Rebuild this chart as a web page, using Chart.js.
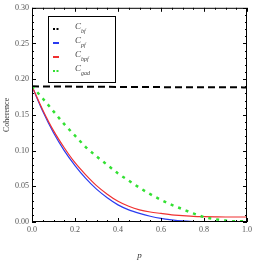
<!DOCTYPE html>
<html>
<head>
<meta charset="utf-8">
<script src="https://cdn.jsdelivr.net/npm/chart.js@4"></script>
<style>
  html, body { margin: 0; padding: 0; background: #fff; }
  #wrap { width: 267px; height: 267px; }
</style>
</head>
<body>
<div id="wrap"><canvas id="chart" width="267" height="267"></canvas></div>
<script>
// values
var pValues = [0, 0.05, 0.1, 0.15, 0.2, 0.25, 0.3, 0.35, 0.4, 0.45, 0.5, 0.55, 0.6, 0.65, 0.7, 0.75, 0.8, 0.85, 0.9, 0.95, 1.0];
var cBf  = [0.190, 0.1899, 0.1898, 0.1897, 0.1896, 0.1895, 0.1894, 0.1893, 0.1892, 0.1891, 0.1890, 0.1890, 0.1889, 0.1889, 0.1888, 0.1888, 0.1887, 0.1887, 0.1886, 0.1886, 0.1885];
var cPf  = [0.190, 0.155, 0.125, 0.100, 0.079, 0.061, 0.046, 0.034, 0.024, 0.017, 0.012, 0.008, 0.005, 0.003, 0.0015, 0.0007, 0.0003, 0.0001, 0, 0, 0];
var cBpf = [0.190, 0.157, 0.128, 0.104, 0.083, 0.066, 0.051, 0.039, 0.029, 0.022, 0.017, 0.014, 0.012, 0.010, 0.009, 0.008, 0.0075, 0.0072, 0.007, 0.007, 0.007];
var cGad = [0.190, 0.173, 0.155, 0.137, 0.121, 0.105, 0.092, 0.080, 0.068, 0.058, 0.048, 0.039, 0.031, 0.024, 0.018, 0.012, 0.007, 0.004, 0.002, 0.001, 0.001];
var legendSubs = ['bf', 'pf', 'bpf', 'gad'];
var xTicks = [0, 0.2, 0.4, 0.6, 0.8, 1.0];
var yTicks = [0, 0.05, 0.10, 0.15, 0.20, 0.25, 0.30];

function pts(arr) {
    return arr.map(function (v, i) { return { x: pValues[i], y: v }; });
}

var serif = '"Liberation Serif", "DejaVu Serif", serif';

// ticks pointing inward on all four sides, like the original frame
var frameTicks = {
    id: 'frameTicks',
    afterDraw: function (chart) {
        var ctx = chart.ctx, a = chart.chartArea;
        var xs = chart.scales.x, ys = chart.scales.y;
        ctx.save();
        ctx.strokeStyle = '#000';
        ctx.lineWidth = 1;
        ctx.strokeRect(a.left + 0.5, a.top + 0.5, a.right - a.left - 1, a.bottom - a.top - 1);
        ctx.beginPath();
        for (var i = 0; i <= 20; i++) {
            var v = i * 0.05;
            var len = (i % 4 === 0) ? 4 : 2;
            var px = Math.round(xs.getPixelForValue(v)) + 0.5;
            ctx.moveTo(px, a.bottom); ctx.lineTo(px, a.bottom - len);
            ctx.moveTo(px, a.top); ctx.lineTo(px, a.top + len);
        }
        for (var j = 0; j <= 30; j++) {
            var w = j * 0.01;
            var l2 = (j % 5 === 0) ? 4 : 2;
            var py = Math.round(ys.getPixelForValue(w)) + 0.5;
            ctx.moveTo(a.left, py); ctx.lineTo(a.left + l2, py);
            ctx.moveTo(a.right, py); ctx.lineTo(a.right - l2, py);
        }
        ctx.stroke();
        ctx.restore();
    }
};

// boxed legend with subscripted labels
var boxLegend = {
    id: 'boxLegend',
    afterDraw: function (chart) {
        var ctx = chart.ctx;
        var bx = 48, by = 16, bw = 67, bh = 66;
        ctx.save();
        ctx.fillStyle = '#fff';
        ctx.fillRect(bx, by, bw, bh);
        ctx.strokeStyle = '#000';
        ctx.lineWidth = 1;
        ctx.strokeRect(bx + 0.5, by + 0.5, bw, bh);
        chart.data.datasets.forEach(function (ds, i) {
            var y = 29 + i * 14;
            ctx.strokeStyle = ds.borderColor;
            ctx.lineWidth = 2;
            ctx.setLineDash(ds.borderDash && ds.borderDash.length ? [2, 1.5] : []);
            ctx.beginPath();
            ctx.moveTo(53, y); ctx.lineTo(59, y);
            ctx.stroke();
            ctx.setLineDash([]);
            ctx.fillStyle = '#444';
            ctx.textBaseline = 'middle';
            ctx.font = 'italic 9px ' + serif;
            ctx.fillText('C', 75, y - 2);
            ctx.font = 'italic 6px ' + serif;
            ctx.fillText(legendSubs[i], 81, y + 2);
        });
        ctx.restore();
    }
};

new Chart(document.getElementById('chart').getContext('2d'), {
    type: 'line',
    data: {
        datasets: [{
            label: 'Cbf',
            data: pts(cBf),
            borderColor: '#000',
            borderWidth: 2,
            borderDash: [7, 4],
            order: 1
        }, {
            label: 'Cpf',
            data: pts(cPf),
            borderColor: '#2a3bf0',
            borderWidth: 1.2,
            order: 3
        }, {
            label: 'Cbpf',
            data: pts(cBpf),
            borderColor: '#f03030',
            borderWidth: 1.2,
            order: 2
        }, {
            label: 'Cgad',
            data: pts(cGad),
            borderColor: '#33e033',
            borderWidth: 2.5,
            borderDash: [3, 5],
            order: 0
        }]
    },
    options: {
        responsive: false,
        animation: false,
        elements: { point: { radius: 0 }, line: { tension: 0.4, cubicInterpolationMode: 'monotone' } },
        layout: { padding: { top: 7, right: 20, left: 0, bottom: 0 } },
        plugins: { legend: { display: false }, tooltip: { enabled: false } },
        scales: {
            x: {
                type: 'linear',
                min: 0, max: 1,
                afterBuildTicks: function (s) { s.ticks = xTicks.map(function (v) { return { value: v }; }); },
                afterFit: function (s) { s.height = 45; },
                grid: { display: false, drawTicks: false },
                border: { display: false },
                ticks: {
                    padding: 3,
                    color: '#555',
                    font: { family: serif, size: 8 },
                    callback: function (v) { return v.toFixed(1); }
                },
                title: {
                    display: true,
                    text: 'p',
                    color: '#333',
                    padding: { top: 14, bottom: 6 },
                    font: { family: serif, size: 9, style: 'italic' }
                }
            },
            y: {
                min: 0, max: 0.3,
                afterBuildTicks: function (s) { s.ticks = yTicks.map(function (v) { return { value: v }; }); },
                afterFit: function (s) { s.width = 32; },
                grid: { display: false, drawTicks: false },
                border: { display: false },
                ticks: {
                    padding: 3,
                    color: '#555',
                    font: { family: serif, size: 8 },
                    callback: function (v) { return v.toFixed(2); }
                },
                title: {
                    display: true,
                    text: 'Coherence',
                    color: '#333',
                    padding: { top: 2, bottom: 0 },
                    font: { family: serif, size: 8 }
                }
            }
        }
    },
    plugins: [frameTicks, boxLegend]
});
</script>
</body>
</html>
